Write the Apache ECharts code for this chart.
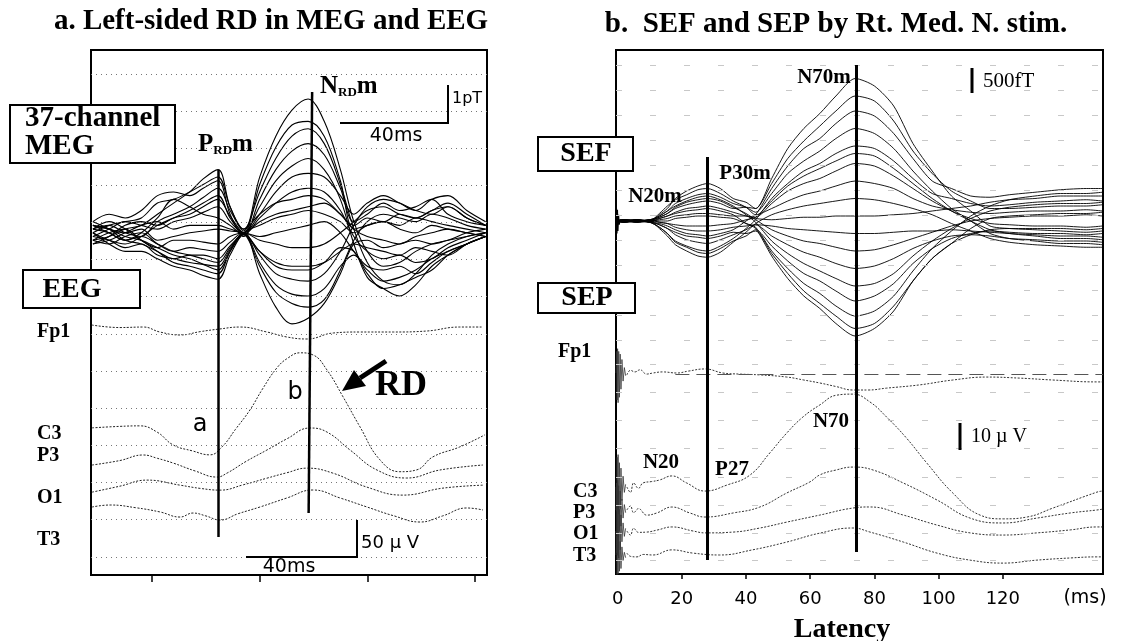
<!DOCTYPE html>
<html lang="en">
<head>
    <meta charset="UTF-8">
    <title>RD in MEG/EEG and SEF/SEP</title>
    <script src="https://cdn.jsdelivr.net/npm/echarts@6/dist/echarts.min.js"></script>
    <style>
        html, body { margin: 0; padding: 0; background: #fff; }
        #chart { width: 1124px; height: 641px; }
    </style>
</head>
<body>
<div id="chart"></div>
<script>
    // ---------- panel a : 37-channel MEG, values in pT ----------
    const megTimesA = [-22, -16, -10, -4, 2, 8, 14, 19, 24.5, 29, 34, 40, 46, 52, 58, 64, 70, 75, 80, 86, 92, 98, 104, 110, 117, 124];
    const megTracesA = [
        [0.1, 0.2, 0.0, -0.1, 0.3, 0.5, 0.7, 0.95, 1.2, 0.6, 0.05, 1.5, 2.6, 3.3, 3.6, 3.0, 1.7, 0.3, -0.5, -0.9, -0.8, -0.5, -0.3, -0.2, 0.0, 0.1],
        [-0.2, -0.1, 0.1, 0.2, 0.5, 0.8, 1.1, 1.45, 1.7, 0.7, 0.1, 1.1, 2.0, 2.6, 2.8, 2.4, 1.3, 0.1, -0.8, -1.3, -1.4, -1.1, -0.6, -0.3, -0.1, 0.0],
        [0.3, 0.5, 0.4, 0.6, 1.0, 1.1, 1.0, 1.2, 1.4, 0.5, -0.1, 0.9, 1.7, 2.2, 2.4, 2.1, 1.2, 0.3, 0.5, 0.8, 0.6, 0.7, 0.9, 0.5, 0.3, 0.2],
        [0.0, -0.2, -0.3, -0.1, 0.2, 0.4, 0.6, 0.8, 1.0, 0.4, 0.0, 0.7, 1.4, 1.8, 2.0, 1.7, 0.9, -0.3, -1.2, -1.5, -1.7, -1.4, -0.9, -0.6, -0.3, -0.1],
        [-0.1, 0.1, 0.3, 0.2, 0.1, 0.3, 0.4, 0.55, 0.7, 0.3, 0.0, 0.5, 1.1, 1.5, 1.6, 1.5, 1.0, 0.5, 0.8, 1.0, 0.8, 0.6, 0.9, 1.0, 0.6, 0.3],
        [0.2, 0.0, -0.2, 0.0, 0.4, 0.9, 0.7, 0.5, 0.4, 0.2, -0.05, 0.4, 0.8, 1.1, 1.2, 1.1, 0.6, -0.1, -0.5, -0.7, -0.6, -0.8, -0.7, -0.4, -0.2, 0.0],
        [-0.3, -0.2, 0.0, 0.2, 0.3, 0.1, 0.2, 0.2, 0.2, 0.1, 0.0, 0.3, 0.5, 0.6, 0.7, 0.8, 0.5, 0.2, 0.4, 0.3, 0.5, 0.4, 0.6, 0.7, 0.4, 0.2],
        [0.1, 0.3, 0.1, -0.2, -0.4, -0.2, -0.2, -0.25, -0.3, -0.1, 0.0, -0.1, 0.0, 0.1, 0.2, 0.3, 0.0, -0.5, -0.9, -1.0, -0.9, -1.1, -0.8, -0.5, -0.3, -0.1],
        [-0.2, -0.3, -0.1, 0.0, -0.3, -0.5, -0.4, -0.45, -0.5, -0.25, 0.0, -0.2, -0.3, -0.4, -0.4, -0.3, 0.0, 0.3, 0.6, 0.7, 0.5, 0.4, 0.6, 0.8, 0.5, 0.2],
        [0.3, 0.1, -0.2, -0.3, -0.5, -0.7, -0.6, -0.6, -0.7, -0.35, -0.05, -0.5, -0.8, -0.9, -0.9, -0.8, -0.5, -0.3, -0.4, -0.5, -0.6, -0.4, -0.5, -0.6, -0.3, -0.1],
        [-0.1, -0.2, -0.4, -0.3, -0.6, -0.7, -0.8, -0.85, -0.9, -0.45, 0.0, -0.6, -1.1, -1.25, -1.3, -1.1, -0.5, 0.2, 0.7, 0.9, 0.8, 0.6, 0.5, 0.7, 0.4, 0.2],
        [-0.2, 0.0, 0.1, -0.2, -0.5, -0.8, -0.9, -1.0, -1.1, -0.5, 0.0, -0.8, -1.4, -1.65, -1.7, -1.5, -0.9, -0.6, -1.0, -1.3, -1.2, -1.0, -0.7, -0.5, -0.3, -0.1],
        [0.0, -0.3, -0.5, -0.5, -0.7, -0.9, -1.0, -1.15, -1.25, -0.6, -0.05, -0.9, -1.6, -1.9, -2.0, -1.8, -1.0, -0.2, 0.3, 0.5, 0.4, 0.3, 0.5, 0.4, 0.2, 0.1],
        [0.1, 0.0, -0.2, -0.1, -0.3, -0.5, -0.6, -0.7, -0.8, -0.4, 0.0, -1.1, -2.0, -2.45, -2.3, -1.9, -1.1, -0.3, -0.2, -0.4, -0.3, -0.2, -0.3, -0.2, -0.1, 0.0],
        [-0.3, -0.1, 0.2, 0.3, 0.2, 0.4, 0.5, 0.7, 0.9, 0.45, 0.0, 1.3, 2.3, 2.9, 3.0, 2.6, 1.4, 0.1, 0.2, 0.3, 0.2, 0.4, 0.3, 0.2, 0.1, 0.0],
        [0.2, 0.1, 0.0, 0.1, -0.2, -0.1, 0.0, 0.05, 0.1, 0.05, 0.0, -0.5, -0.9, -1.0, -1.0, -0.8, -0.4, -0.5, -1.1, -1.5, -1.4, -1.2, -1.0, -0.6, -0.3, -0.1],
        [0.0, 0.2, 0.3, 0.4, 0.8, 0.9, 1.1, 1.3, 1.5, 0.7, 0.1, 0.5, 0.8, 0.9, 1.0, 0.9, 0.5, 0.1, -0.1, -0.2, -0.3, -0.1, 0.0, 0.1, 0.0, -0.1],
        [0.2, 0.1, -0.1, -0.2, -0.4, -0.6, -0.7, -0.85, -1.0, -0.5, 0.0, 0.2, 0.4, 0.5, 0.6, 0.5, 0.3, 0.0, 0.2, 0.3, 0.1, 0.0, 0.2, 0.1, 0.0, -0.1]
    ];

    // panel a EEG, [ms, µV]
    const eegNamesA = ['Fp1', 'C3', 'P3', 'O1', 'T3'];
    const eegFp1A = [[-22.4, 9.4], [-12, 6], [-3.2, 6.7], [2.9, 0], [10.4, -4], [17.9, 0.5], [25, 4], [32.7, 6.7], [42.7, 0], [50.1, -6.7], [57.6, -9.4], [67.4, -1.3], [77.3, 0], [89.7, 0], [102, 1.3], [114.4, 6.7], [123, 6.7]];
    const eegC3A = [[-22.3, 0], [-12, 2], [-4.5, 2.7], [2, -6], [7.8, -22.9], [15, -31], [21.5, -36.3], [26, -25.6], [31, -2], [36.4, 24.2], [41, 52], [46.4, 80.7], [50.5, 94], [55, 101], [59.8, 98.2], [65, 78], [71, 41.7], [77.3, 1.3], [84.7, -43], [92.1, -59], [98.4, -56.5], [104.4, -39], [114.4, -25.6], [123.7, -9.4]];
    const eegP3A = [[-22.3, 0], [-12, 6], [-3.3, 13.5], [2, 9], [7.8, 2.7], [16, -8], [24.1, -16.2], [27.9, -10.8], [35, 5], [42.7, 20.2], [50, 35], [58.7, 49.8], [65, 44.4], [73.6, 20.2], [83.6, -6.7], [94.7, -17.5], [107, -6.7], [123, 0]];
    const eegO1A = [[-22.3, 0], [-12, 8], [-1.9, 16.2], [10.4, 9.4], [18, 5], [25.3, 2.7], [34, 10], [42.7, 18.8], [50, 26], [57.6, 32.3], [67.2, 25.6], [79.9, 6.7], [93.2, -4], [108.1, 5.4], [123, 9.4]];
    const eegT3A = [[-22.3, 0], [-15.6, 2.7], [-6, -1], [3, -6.7], [10.4, -13.5], [15.2, -8.1], [20, -12], [25.3, -17.5], [32, -9], [40.1, 0], [50, 12], [59.8, 22.9], [70, 12], [79.9, 0], [90, -12], [99.6, -20.2], [108, -12], [117, -1.3], [123, -4]];
    const eegTracesA = { Fp1: eegFp1A, C3: eegC3A, P3: eegP3A, O1: eegO1A, T3: eegT3A };

    const ticksA = [0, 40, 80, 120];
    const gridRowsA = [0.49, 1.49, 2.49, 3.49, 4.49, 5.49, 6.49, 7.49, 8.49, 9.49, 10.49, 11.49, 12.49, 13.49];

    // ---------- panel b : SEF, values in units of the 500 fT bar ----------
    const sefTimesB = [-0.5, 2, 6, 10, 13, 15.5, 18, 21.5, 25, 28, 32, 36, 40, 43, 48, 53, 58, 63, 68, 74, 80, 86, 92, 98, 104, 110, 116, 122, 130, 138, 146, 151];
    const sefTracesB = [
        [0, 0.05, -0.05, 0.05, 0.15, 0.3, 0.5, 0.65, 0.75, 0.8, 0.7, 0.5, 0.55, 0.5, 1.7, 2.9, 3.7, 4.3, 5.0, 5.7, 5.4, 4.6, 3.1, 2.0, 1.0, 0.4, -0.2, -0.3, -0.35, -0.4, -0.45, -0.4],
        [0, -0.05, 0.05, 0.0, 0.25, 0.5, 0.9, 1.2, 1.4, 1.5, 1.3, 0.9, 0.75, 0.5, 1.5, 2.5, 3.2, 3.8, 4.4, 5.0, 4.8, 4.0, 2.8, 1.9, 1.2, 0.8, 0.5, 0.5, 0.55, 0.6, 0.6, 0.65],
        [0, 0.0, 0.05, -0.05, -0.1, -0.2, -0.35, -0.5, -0.55, -0.6, -0.5, -0.35, 0.0, 0.25, 1.3, 2.2, 2.9, 3.3, 3.9, 4.4, 4.2, 3.5, 2.5, 1.6, 1.3, 1.0, 0.95, 1.05, 1.15, 1.25, 1.3, 1.3],
        [0, 0.05, 0.0, 0.05, 0.2, 0.4, 0.7, 0.9, 1.05, 1.1, 0.95, 0.7, 0.55, 0.35, 1.1, 1.9, 2.4, 2.8, 3.3, 3.7, 3.5, 2.9, 2.0, 1.2, 0.5, 0.0, -0.5, -0.7, -0.8, -0.9, -0.9, -0.95],
        [0, -0.05, 0.0, -0.05, -0.25, -0.5, -0.8, -1.0, -1.15, -1.2, -1.0, -0.7, -0.3, 0.05, 0.9, 1.5, 2.0, 2.3, 2.7, 3.0, 2.9, 2.4, 1.7, 1.1, 0.9, 0.7, 0.6, 0.65, 0.75, 0.8, 0.85, 0.8],
        [0, 0.0, -0.05, 0.0, 0.05, 0.1, 0.2, 0.25, 0.3, 0.3, 0.25, 0.2, 0.2, 0.15, 0.7, 1.2, 1.5, 1.7, 2.0, 2.3, 2.2, 1.8, 1.3, 0.8, 0.4, 0.1, -0.1, -0.15, -0.2, -0.2, -0.25, -0.2],
        [0, 0.05, 0.05, 0.0, 0.3, 0.6, 0.85, 1.05, 1.25, 1.3, 1.1, 0.8, 0.55, 0.25, 0.5, 0.8, 1.05, 1.2, 1.4, 1.6, 1.5, 1.3, 0.9, 0.6, 0.45, 0.35, 0.3, 0.35, 0.4, 0.4, 0.45, 0.4],
        [0, 0.0, -0.05, 0.0, -0.3, -0.6, -0.95, -1.2, -1.4, -1.45, -1.25, -0.85, -0.45, -0.1, 0.25, 0.45, 0.6, 0.7, 0.8, 0.9, 0.85, 0.7, 0.5, 0.25, -0.1, -0.4, -0.7, -0.85, -0.95, -1.0, -1.05, -1.05],
        [0, -0.05, 0.0, 0.05, 0.1, 0.2, 0.35, 0.5, 0.55, 0.6, 0.5, 0.35, 0.2, 0.1, 0.05, 0.1, 0.15, 0.15, 0.2, 0.2, 0.2, 0.25, 0.3, 0.4, 0.5, 0.6, 0.75, 0.85, 0.9, 1.0, 1.0, 1.0],
        [0, 0.0, 0.05, -0.05, -0.15, -0.3, -0.55, -0.75, -0.85, -0.9, -0.75, -0.55, -0.35, -0.15, -0.2, -0.3, -0.35, -0.4, -0.45, -0.5, -0.5, -0.45, -0.4, -0.4, -0.35, -0.4, -0.45, -0.5, -0.55, -0.6, -0.6, -0.65],
        [0, 0.05, 0.0, 0.0, 0.15, 0.3, 0.55, 0.75, 0.85, 0.9, 0.8, 0.55, 0.3, 0.05, -0.35, -0.6, -0.8, -0.9, -1.05, -1.2, -1.15, -0.95, -0.7, -0.45, -0.2, 0.0, 0.1, 0.15, 0.2, 0.2, 0.25, 0.2],
        [0, 0.0, -0.05, 0.05, -0.05, -0.1, -0.25, -0.35, -0.4, -0.4, -0.35, -0.25, -0.2, -0.15, -0.6, -0.95, -1.25, -1.45, -1.7, -1.9, -1.8, -1.5, -1.1, -0.8, -0.6, -0.55, -0.6, -0.7, -0.75, -0.8, -0.8, -0.85],
        [0, -0.05, 0.05, 0.0, 0.2, 0.4, 0.6, 0.8, 0.95, 1.0, 0.85, 0.6, 0.25, -0.05, -0.8, -1.3, -1.7, -2.0, -2.3, -2.6, -2.5, -2.1, -1.4, -0.8, -0.3, 0.1, 0.4, 0.55, 0.65, 0.7, 0.7, 0.75],
        [0, 0.05, 0.0, -0.05, -0.25, -0.5, -0.85, -1.05, -1.25, -1.3, -1.1, -0.8, -0.6, -0.35, -1.0, -1.6, -2.1, -2.4, -2.8, -3.2, -3.0, -2.5, -1.7, -1.1, -0.7, -0.5, -0.4, -0.45, -0.5, -0.5, -0.55, -0.5],
        [0, 0.0, 0.0, 0.05, 0.0, 0.0, 0.1, 0.15, 0.2, 0.2, 0.15, 0.1, -0.1, -0.25, -1.2, -1.9, -2.5, -2.9, -3.4, -3.8, -3.6, -3.0, -2.0, -1.1, -0.4, 0.2, 0.6, 0.85, 1.0, 1.1, 1.1, 1.15],
        [0, -0.05, 0.0, 0.0, -0.15, -0.3, -0.45, -0.6, -0.65, -0.7, -0.6, -0.45, -0.5, -0.4, -1.3, -2.1, -2.8, -3.3, -3.8, -4.3, -4.1, -3.4, -2.4, -1.5, -0.9, -0.55, -0.35, -0.3, -0.3, -0.3, -0.35, -0.3],
        [0, 0.05, 0.0, -0.05, 0.1, 0.2, 0.3, 0.4, 0.45, 0.5, 0.4, 0.25, -0.1, -0.3, -1.4, -2.3, -3.0, -3.5, -4.1, -4.6, -4.3, -3.6, -2.4, -1.5, -0.9, -0.3, 0.1, 0.2, 0.25, 0.3, 0.3, 0.35],
        [0, 0.0, 0.05, 0.0, -0.05, -0.1, -0.15, -0.2, -0.2, -0.2, -0.15, -0.1, 0.05, 0.15, 0.8, 1.4, 1.8, 2.1, 2.4, 2.7, 2.6, 2.1, 1.5, 0.9, 0.4, 0.0, -0.35, -0.5, -0.6, -0.7, -0.7, -0.75]
    ];
    const sefArtifactB = [[-0.5, 0], [-0.35, 0.5], [-0.2, -0.5], [-0.05, 0.45], [0.1, -0.4], [0.3, 0.25], [0.5, -0.15], [0.8, 0.05], [1.2, 0]];

    // panel b SEP, [ms, µV]
    const sepNamesB = ['Fp1', 'C3', 'P3', 'O1', 'T3'];
    const sepFp1B = [[2.9, -0.7], [4, 1], [5.4, 0.4], [7, 1.2], [9, -0.4], [11, 0], [14, 0.4], [18.5, 0], [22, 0.7], [27.2, 1.5], [32.8, 0], [38, -0.4], [44.3, -0.7], [52.7, -1.5], [58, -2.6], [63, -3.7], [68, -5], [73.3, -6.3], [78, -6.3], [83.8, -5.6], [94.1, -4.4], [104.4, -2.6], [115, -1.5], [125.3, -1.9], [135.6, -2.6], [149.3, -3.3], [151, -3.3]];
    const sepC3B = [[2.9, 0], [4, -2], [5, 1.5], [6.5, -0.5], [7.9, 1.5], [10.5, 2], [13.1, 2.6], [16.9, 4.1], [21.5, 1.5], [27.2, -1.5], [34, 0.7], [41.2, 4.4], [47.4, 12.6], [52.7, 20], [57.7, 25.9], [63, 30.4], [68.2, 34], [73.3, 34.4], [78.6, 31.5], [83.8, 25.9], [90, 18.1], [96.3, 8.9], [104.4, -2.2], [112.9, -10.4], [120.1, -11.8], [127.6, -11.1], [135.6, -7.8], [149.3, -1.9], [151, -1.5]];
    const sepP3B = [[2.9, 0], [4, 1.5], [5, -1], [6.5, 0.5], [9.1, -1.9], [12.2, -1.1], [16.9, 1.1], [22.5, -1.1], [27.2, -2.6], [36, -1.1], [44.3, 1.1], [52.7, 6.3], [59.9, 10.4], [63, 13], [68, 14.8], [73.3, 15.9], [79.6, 14.8], [89, 10], [99.5, 3.7], [109.8, -3], [120.1, -4.8], [130.6, -3], [141, -1.1], [149.3, 0], [151, 0.3]];
    const sepO1B = [[2.9, 0], [4, -1.5], [5, 1], [6.5, -0.5], [9.1, -0.4], [12.5, 0.4], [16.9, 1.5], [23.5, 0], [27.2, -0.7], [36, -0.4], [44.3, 1.1], [52.7, 3.3], [63, 5.9], [73.3, 8.5], [78.6, 8.9], [89, 5.9], [99.5, 2.2], [109.8, -0.7], [120.1, -1.5], [130.6, -0.7], [141, 0.4], [149.3, 1.5], [151, 1.5]];
    const sepT3B = [[2.9, 0.7], [4, -0.5], [6, -0.7], [8, 0.2], [11, 0], [16.9, 1.9], [23.5, 0.7], [31.8, 0], [42, 1.9], [52.7, 4.8], [63, 8.1], [73.3, 10], [78.6, 8.5], [89, 4.8], [99.5, 0.7], [109.8, -1.9], [120.1, -3], [130.6, -1.9], [141, -1.1], [149.3, -0.7], [151, -0.7]];
    const sepTracesB = { Fp1: sepFp1B, C3: sepC3B, P3: sepP3B, O1: sepO1B, T3: sepT3B };
    // stimulus artifact at 0 ms
    const sepArtifactB = {
        Fp1: [[-0.5, 0], [-0.3, 8], [-0.15, -10], [0, 9], [0.15, -11], [0.35, 8], [0.55, -9], [0.8, 7], [1.05, -6], [1.35, 5], [1.7, -3], [2.1, 2], [2.5, -1]],
        C3: [[-0.5, 0], [-0.3, -9], [-0.15, 11], [0, -8], [0.15, 12], [0.35, -10], [0.55, 9], [0.8, -8], [1.05, 7], [1.35, -5], [1.7, 4], [2.1, -2], [2.5, 1]],
        P3: [[-0.5, 0], [-0.3, 10], [-0.15, -9], [0, 11], [0.15, -10], [0.35, 9], [0.55, -8], [0.8, 7], [1.05, -6], [1.35, 4], [1.7, -3], [2.1, 2], [2.5, -1]],
        O1: [[-0.5, 0], [-0.3, -8], [-0.15, 10], [0, -9], [0.15, 9], [0.35, -10], [0.55, 8], [0.8, -7], [1.05, 6], [1.35, -4], [1.7, 3], [2.1, -2], [2.5, 1]],
        T3: [[-0.5, 0], [-0.3, 7], [-0.15, -8], [0, 9], [0.15, -7], [0.35, 8], [0.55, -6], [0.8, 5], [1.05, -5], [1.35, 3], [1.7, -2], [2.1, 1], [2.5, -1]]
    };

    const ticksB = [20, 40, 60, 80, 100, 120];
    const tickLabelsB = [0, 20, 40, 60, 80, 100, 120];
    const gridRowsB = [20.36, 19.36, 18.36, 17.36, 16.36, 15.36, 14.36, 13.36, 12.36, 11.36, 10.36, 9.36, 8.4, 7.28, 6.16, 5.04, 3.88, 2.76, 1.64, 0.56];

    // ---------- layout (trace baselines in axis units) ----------
    const megBaseA = 9.21;
    const eegBaseA = { Fp1: 6.54, C3: 3.96, P3: 2.96, O1: 2.23, T3: 1.83 };
    const uvUnitA = 1 / 50;      // 50 µV per grid row
    const sefBaseB = 14.12;
    const sepBaseB = { Fp1: 8.04, C3: 3.48, P3: 2.56, O1: 1.72, T3: 0.76 };
    const uvUnitB = 0.108;       // 10 µV bar = 1.08 rows

    const serif = '"Liberation Serif", "Times New Roman", serif';
    const sans = '"DejaVu Sans", sans-serif';

    function traceSeries(idx, data, lineStyle, smooth) {
        return {
            type: 'line', xAxisIndex: idx, yAxisIndex: idx, data: data,
            symbol: 'none', smooth: smooth, silent: true, animation: false,
            lineStyle: lineStyle
        };
    }

    function noSym() { return ['none', 'none']; }

    const series = [];
    // panel a
    megTracesA.forEach(v => {
        series.push(traceSeries(0, megTimesA.map((t, i) => [t, megBaseA + v[i]]), { color: '#000', width: 1.1 }, 0.35));
    });
    eegNamesA.forEach(n => {
        series.push(traceSeries(0, eegTracesA[n].map(p => [p[0], eegBaseA[n] + p[1] * uvUnitA]),
            { color: '#222', width: 1, type: [2, 1.5] }, 0.45));
    });
    // panel a grid rows and the two latency markers
    series.push({
        type: 'line', xAxisIndex: 0, yAxisIndex: 0, data: [[0, gridRowsA[0]]], symbol: 'none',
        lineStyle: { opacity: 0 }, silent: true, animation: false,
        markLine: {
            silent: true, symbol: noSym(), label: { show: false }, animation: false,
            data: gridRowsA.map(v => ({ yAxis: v, lineStyle: { color: '#777', width: 1, type: [1, 4] } })).concat([
                [{ coord: [24.5, 10.9], lineStyle: { color: '#000', width: 2.5, type: 'solid' } }, { coord: [24.5, 1.02] }],
                [{ coord: [59.5, 13.0], lineStyle: { color: '#000', width: 2.5, type: 'solid' } }, { coord: [58.2, 1.67] }]
            ])
        }
    });

    // panel b
    series.push(traceSeries(1, sefArtifactB.map(p => [p[0], sefBaseB + p[1]]), { color: '#000', width: 1.2 }, false));
    sefTracesB.forEach(v => {
        series.push(traceSeries(1, sefTimesB.map((t, i) => [t, sefBaseB + v[i]]), { color: '#000', width: 0.9 }, 0.25));
    });
    sepNamesB.forEach(n => {
        series.push(traceSeries(1, sepArtifactB[n].map(p => [p[0], sepBaseB[n] + p[1] * uvUnitB]),
            { color: '#333', width: 0.8 }, false));
        series.push(traceSeries(1, sepTracesB[n].map(p => [p[0], sepBaseB[n] + p[1] * uvUnitB]),
            { color: '#333', width: 1, type: [2, 1.5] }, 0.45));
    });
    series.push({
        type: 'line', xAxisIndex: 1, yAxisIndex: 1, data: [[0, gridRowsB[0]]], symbol: 'none',
        lineStyle: { opacity: 0 }, silent: true, animation: false,
        markLine: {
            silent: true, symbol: noSym(), label: { show: false }, animation: false,
            data: gridRowsB.map(v => ({ yAxis: v, lineStyle: { color: '#c8c8c8', width: 1, type: [6, 28] } })).concat([
                [{ coord: [18, 7.98], lineStyle: { color: '#555', width: 1, type: [14, 7] } }, { coord: [151.2, 7.98] }],
                [{ coord: [28, 16.68], lineStyle: { color: '#000', width: 3, type: 'solid' } }, { coord: [28, 0.56] }],
                [{ coord: [74.2, 20.36], lineStyle: { color: '#000', width: 3, type: 'solid' } }, { coord: [74.2, 0.88] }]
            ])
        }
    });

    function txt(x, y, text, font, align, extra) {
        return Object.assign({
            type: 'text', x: x, y: y, z: 100,
            style: { text: text, font: font, fill: '#000', align: align || 'left', verticalAlign: 'middle' }
        }, extra || {});
    }
    function box(x, y, w, h) {
        return { type: 'rect', z: 90, shape: { x: x, y: y, width: w, height: h }, style: { fill: '#fff', stroke: '#000', lineWidth: 2 } };
    }
    function seg(x1, y1, x2, y2, w) {
        return { type: 'line', z: 95, shape: { x1: x1, y1: y1, x2: x2, y2: y2 }, style: { stroke: '#000', lineWidth: w } };
    }

    const subRich = {
        b: { font: 'bold 25px ' + serif, fill: '#000' },
        s: { font: 'bold 13px ' + serif, fill: '#000', verticalAlign: 'bottom' }
    };

    const graphics = [
        // panel a
        txt(271, 22, 'a. Left-sided RD in MEG and EEG', 'bold 29px ' + serif, 'center'),
        box(10, 105, 165, 58),
        txt(25, 119, '37-channel', 'bold 29px ' + serif),
        txt(25, 147, 'MEG', 'bold 29px ' + serif),
        box(23, 270, 117, 38),
        txt(72, 290, 'EEG', 'bold 28px ' + serif, 'center'),
        txt(37, 332, 'Fp1', 'bold 20px ' + serif),
        txt(37, 434, 'C3', 'bold 20px ' + serif),
        txt(37, 456, 'P3', 'bold 20px ' + serif),
        txt(37, 498, 'O1', 'bold 20px ' + serif),
        txt(37, 540, 'T3', 'bold 20px ' + serif),
        { type: 'text', x: 198, y: 145, z: 100, style: { text: '{b|P}{s|RD}{b|m}', rich: subRich, verticalAlign: 'middle' } },
        { type: 'text', x: 320, y: 87, z: 100, style: { text: '{b|N}{s|RD}{b|m}', rich: subRich, verticalAlign: 'middle' } },
        seg(448, 85, 448, 124, 2), seg(340, 123, 449, 123, 2),
        txt(452, 99, '1pT', '16px ' + sans),
        txt(396, 136, '40ms', '19px ' + sans, 'center'),
        txt(200, 425, 'a', '24px ' + sans, 'center'),
        txt(295, 393, 'b', '24px ' + sans, 'center'),
        txt(375, 386, 'RD', 'bold 36px ' + serif),
        seg(386, 361, 360, 378, 5),
        { type: 'polygon', z: 95, shape: { points: [[342, 391], [366, 386], [354, 370]] }, style: { fill: '#000' } },
        seg(357, 520, 357, 558, 2), seg(246, 557, 358, 557, 2),
        txt(361, 543, '50 µ V', '18px ' + sans),
        txt(289, 567, '40ms', '19px ' + sans, 'center'),
        // panel b
        txt(836, 25, 'b.  SEF and SEP by Rt. Med. N. stim.', 'bold 29px ' + serif, 'center'),
        box(538, 137, 95, 34),
        txt(586, 154, 'SEF', 'bold 28px ' + serif, 'center'),
        box(538, 283, 97, 30),
        txt(587, 298, 'SEP', 'bold 28px ' + serif, 'center'),
        txt(558, 352, 'Fp1', 'bold 20px ' + serif),
        txt(573, 492, 'C3', 'bold 20px ' + serif),
        txt(573, 513, 'P3', 'bold 20px ' + serif),
        txt(573, 534, 'O1', 'bold 20px ' + serif),
        txt(573, 556, 'T3', 'bold 20px ' + serif),
        txt(655, 197, 'N20m', 'bold 21px ' + serif, 'center'),
        txt(745, 174, 'P30m', 'bold 21px ' + serif, 'center'),
        txt(824, 78, 'N70m', 'bold 21px ' + serif, 'center'),
        seg(972, 68, 972, 93, 3),
        txt(983, 81, '500fT', '21px ' + serif),
        seg(960, 423, 960, 450, 3),
        txt(971, 437, '10 µ V', '20px ' + serif),
        txt(661, 463, 'N20', 'bold 21px ' + serif, 'center'),
        txt(732, 470, 'P27', 'bold 21px ' + serif, 'center'),
        txt(831, 422, 'N70', 'bold 21px ' + serif, 'center'),
        txt(1085, 598, '(ms)', '19px ' + sans, 'center'),
        txt(842, 630, 'Latency', 'bold 28px ' + serif, 'center')
    ];

    const myChart = echarts.init(document.getElementById('chart'));
    const option = {
        backgroundColor: '#fff',
        animation: false,
        grid: [
            { left: 91, top: 50, width: 396, height: 525, show: true, borderColor: '#000', borderWidth: 2 },
            { left: 616, top: 50, width: 487, height: 524, show: true, borderColor: '#000', borderWidth: 2 }
        ],
        xAxis: [
            {
                gridIndex: 0, type: 'value', min: -22.7, max: 124.5,
                axisLine: { show: true, onZero: false, lineStyle: { color: '#000', width: 2 } },
                axisTick: { show: true, customValues: ticksA, length: 7, lineStyle: { color: '#000', width: 1.5 } },
                axisLabel: { show: false }, splitLine: { show: false }
            },
            {
                gridIndex: 1, type: 'value', min: -0.5, max: 151.2,
                axisLine: { show: true, onZero: false, lineStyle: { color: '#000', width: 2 } },
                axisTick: { show: true, customValues: ticksB, length: 5, lineStyle: { color: '#000', width: 1.5 } },
                axisLabel: { show: true, customValues: tickLabelsB, margin: 16, color: '#000', fontFamily: 'DejaVu Sans', fontSize: 18 },
                splitLine: { show: false }
            }
        ],
        yAxis: [
            { gridIndex: 0, type: 'value', min: 0, max: 14.13, show: false, splitLine: { show: false } },
            { gridIndex: 1, type: 'value', min: 0, max: 20.96, show: false, splitLine: { show: false } }
        ],
        series: series,
        graphic: { elements: graphics }
    };
    myChart.setOption(option);
</script>
</body>
</html>
